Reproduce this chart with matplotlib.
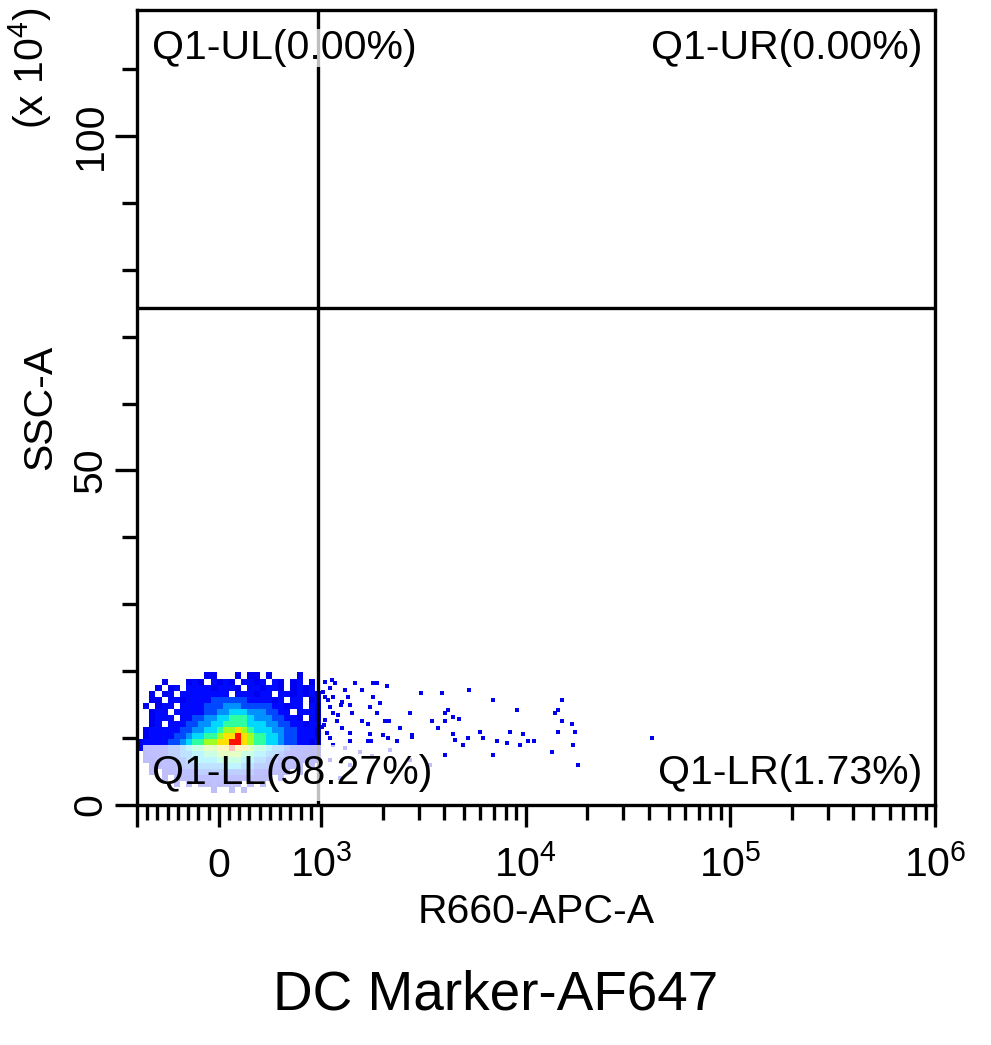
import numpy as np
import matplotlib.pyplot as plt
from matplotlib.colors import ListedColormap, BoundaryNorm

plt.rcParams['font.family'] = ['Liberation Sans', 'DejaVu Sans']
plt.rcParams['mathtext.default'] = 'regular'

# density level per bin (0 = empty ... 9 = peak)
# rows go from high SSC-A (top) to low SSC-A (bottom)
density_rows = [
    ".........." ".11...1.11" ".1....1...",
    "....1...12" "1.2121.221" "2.21.12.1.",
    "...1.12.22" "2212221.22" "1221.1212.",
    "..1.12.222" "22222.2221" "22.2212121",
    "..11.22122" "2233333322" "2212.22.12",
    ".1.122.222" "2333444333" "3322122.21",
    "..122.2222" "2334455544" "43322.2221",
    "..1222.223" "3445566654" "4433221.21",
    "..12.22233" "4455666655" "5443322122",
    ".122222334" "4556778765" "5544332221",
    ".122223345" "5667889876" "6554332221",
    "1222233456" "6778899876" "6554332212",
    "1222233456" "6778898876" "6544322211",
    ".122233445" "5667777665" "5443222111",
    ".112223344" "5556666554" "4332221111",
    "..11222333" "4444555443" "3322211.1.",
    "..1.112222" "3333333332" "22211.1...",
    "....1.1112" "2222222221" "11.1......",
    "......1.1." "1121211.1." "1.........",
    ".........." "..1..1.1.." "..........",
    ".........." ".........." "..........",
    ".........." ".........." "..........",
]
bin_x = np.linspace(-800, 1000, 31)   # R660-APC-A bin edges
bin_y = np.linspace(0, 19.8, 23)      # SSC-A bin edges (x 10^4)

# single events outside the dense core (R660-APC-A, SSC-A x 10^4)
sparse_events = [
    (1046, 18.4), (1132, 18.7), (1171, 18.2), (1466, 18.2), (1790, 18.2), (1880, 18.2),
    (2102, 17.8), (1107, 17.5), (1310, 17.2), (1586, 17.2), (3082, 16.7), (3904, 16.7),
    (5288, 17.2), (1046, 16.1), (1145, 16.1), (1355, 16.1), (1796, 16.1), (1266, 15.4),
    (6929, 15.7), (15065, 15.7), (1107, 14.6), (1386, 14.9), (1736, 14.6), (1943, 15.2),
    (1145, 13.8), (1417, 13.8), (1877, 13.8), (2723, 13.8), (4023, 13.8), (4163, 14.2),
    (9078, 14.2), (13923, 13.8), (14400, 14.2), (1046, 12.7), (1197, 12.6), (1586, 12.6),
    (1697, 12.1), (2055, 12.6), (2150, 12.6), (2434, 11.5), (3486, 12.6), (4023, 12.6),
    (4418, 13.2), (4712, 12.9), (15065, 12.6), (16856, 12.1), (1011, 11.7), (1266, 11.5),
    (3731, 11.5), (5985, 10.9), (8389, 10.9), (14400, 10.9), (17435, 10.9), (1070, 10.8),
    (1386, 10.8), (1736, 10.6), (2009, 10.5), (2785, 10.5), (4418, 10.6), (9712, 10.6),
    (1107, 10.0), (1386, 9.6), (1697, 9.6), (1760, 9.6), (2126, 10.0), (2352, 9.6),
    (2785, 10.2), (4503, 9.7), (5212, 10.0), (6192, 10.0), (7248, 9.6), (8111, 9.3),
    (9389, 9.0), (10273, 9.6), (10990, 9.6), (4927, 9.0), (17047, 9.0), (41473, 10.0),
    (13460, 7.9), (4023, 7.5), (6929, 7.5), (18040, 6.0), (1023, 16.9), (1082, 15.7),
    (1212, 13.5), (1034, 12.0), (1145, 9.0), (1250, 14.9), (1310, 8.5), (1552, 7.9),
    (1774, 7.3), (2176, 8.2), (2723, 6.7), (3410, 6.0), (1107, 6.7), (1386, 6.0),
    (1237, 4.0),
]

gate_x = 968     # vertical quadrant line
gate_y = 74.3    # horizontal quadrant line
quadrant_labels = ['Q1-UL(0.00%)', 'Q1-UR(0.00%)', 'Q1-LL(98.27%)', 'Q1-LR(1.73%)']

level_colors = ['#0000f0', '#0008ff', '#0048ff', '#0090ff', '#00d8ff',
                '#30ffa0', '#a0ff20', '#ffe000', '#ff1000']
cmap = ListedColormap(level_colors)
norm = BoundaryNorm(np.arange(0.5, 10.5, 1), cmap.N)

levels = np.array([[0 if c == '.' else int(c) for c in row] for row in density_rows[::-1]])
levels = np.ma.masked_equal(levels, 0)

fig = plt.figure(figsize=(9.91, 10.45), dpi=100)
ax = fig.add_axes([0.1382, 0.2297, 0.8052, 0.7612])

ax.set_xscale('symlog', linthresh=1000, linscale=0.45)
ax.pcolormesh(bin_x, bin_y, levels, cmap=cmap, norm=norm, shading='flat',
              antialiased=False, zorder=1)
ev_x, ev_y = zip(*sparse_events)
ax.plot(ev_x, ev_y, 's', ms=2.4, mew=0, color='#0000ee', zorder=1)

ax.axvline(gate_x, color='black', lw=2.4, zorder=3)
ax.axhline(gate_y, color='black', lw=2.4, zorder=3)

ax.set_xlim(-800, 1e6)
ax.set_ylim(0, 118.9)

ax.set_xticks([-800, 0, 1e3, 1e4, 1e5, 1e6])
ax.set_xticklabels(['', '0', '$10^{3}$', '$10^{4}$', '$10^{5}$', '$10^{6}$'])
minor_x = [v for v in range(-700, 1000, 100) if v != 0]
minor_x += [m * 10 ** d for d in (3, 4, 5) for m in range(2, 10)]
ax.set_xticks(minor_x, minor=True)
ax.set_yticks([0, 50, 100])
ax.set_yticklabels(['0', '50', '100'], rotation=90, va='center')
ax.set_yticks([v for v in range(10, 120, 10) if v % 50], minor=True)

ax.tick_params(which='major', length=15.8, width=2.4, direction='out', labelsize=29.5)
ax.tick_params(which='minor', length=10.8, width=2.4, direction='out')
ax.tick_params(axis='x', pad=36)
ax.tick_params(axis='y', pad=4)
plt.setp(ax.get_xticklabels(), va='baseline')
for s in ax.spines.values():
    s.set_linewidth(2.4)

box_lo = dict(boxstyle='square,pad=0.22', facecolor='white', alpha=0.75, edgecolor='none')
box_hi = dict(boxstyle='square,pad=0.0', facecolor='white', alpha=0.75, edgecolor='none')
ax.text(0.0188, 0.952, quadrant_labels[0], transform=ax.transAxes, fontsize=29.5,
        ha='left', va='center', bbox=box_hi, zorder=5, clip_on=True)
ax.text(0.9837, 0.952, quadrant_labels[1], transform=ax.transAxes, fontsize=29.5,
        ha='right', va='center', bbox=box_hi, zorder=5, clip_on=True)
ax.text(0.0188, 0.040, quadrant_labels[2], transform=ax.transAxes, fontsize=29.5,
        ha='left', va='center', bbox=box_lo, zorder=5, clip_on=True)
ax.text(0.9837, 0.040, quadrant_labels[3], transform=ax.transAxes, fontsize=29.5,
        ha='right', va='center', bbox=box_lo, zorder=5, clip_on=True)

ax.set_xlabel('R660-APC-A', fontsize=29.5)
ax.xaxis.set_label_coords(0.5, -0.111)
ax.set_ylabel('SSC-A', fontsize=29.5)
ax.yaxis.set_label_coords(-0.098, 0.5)

fig.text(30 / 991, 1 - 68 / 1045, '(x $10^{4}$)', rotation=90, fontsize=29.5,
         ha='center', va='center')
fig.text(0.5, 1 - 995 / 1045, 'DC Marker-AF647', fontsize=39.5, ha='center', va='center')

fig.savefig('out.png', dpi=100)
